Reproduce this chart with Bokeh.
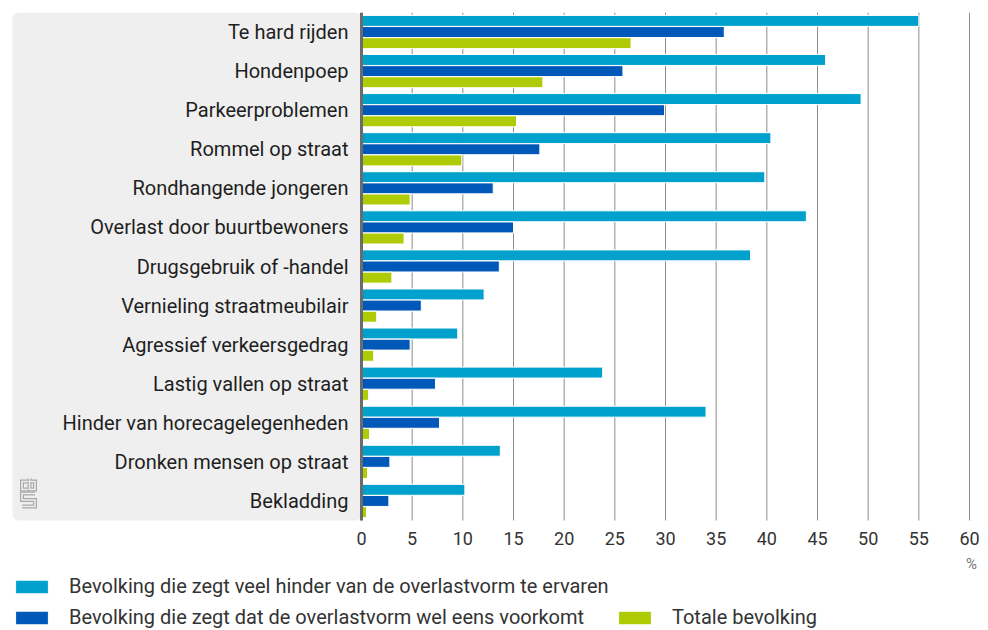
from bokeh.plotting import figure
from bokeh.models import (ColumnDataSource, Range1d, BoxAnnotation, Legend, LegendItem)
from bokeh.transform import dodge
from bokeh.core.properties import value
from bokeh.embed import file_html
from bokeh.resources import INLINE

categories = [
    "Te hard rijden", "Hondenpoep", "Parkeerproblemen", "Rommel op straat",
    "Rondhangende jongeren", "Overlast door buurtbewoners", "Drugsgebruik of -handel",
    "Vernieling straatmeubilair", "Agressief verkeersgedrag", "Lastig vallen op straat",
    "Hinder van horecagelegenheden", "Dronken mensen op straat", "Bekladding",
]
veel_hinder = [55.0, 45.8, 49.3, 40.4, 39.8, 43.9, 38.4, 12.1, 9.5, 23.8, 34.0, 13.7, 10.2]
wel_eens = [35.8, 25.8, 29.9, 17.6, 13.0, 15.0, 13.6, 5.9, 4.8, 7.3, 7.7, 2.8, 2.7]
totaal = [26.6, 17.9, 15.3, 9.9, 4.8, 4.2, 3.0, 1.5, 1.2, 0.7, 0.8, 0.6, 0.5]
x_ticks = [0, 5, 10, 15, 20, 25, 30, 35, 40, 45, 50, 55, 60]
series_labels = [
    "Bevolking die zegt veel hinder van de overlastvorm te ervaren",
    "Bevolking die zegt dat de overlastvorm wel eens voorkomt",
    "Totale bevolking",
]
unit_label = "%"

FONT = "Roboto"
C_LIGHT = "#00a1cd"
C_DARK = "#0058b8"
C_GREEN = "#afcb05"
PANEL = "#efefef"

# ---- layout (pixels) ----
FRAME_LEFT = 6
FRAME_TOP = 12
FRAME_W = 975
FRAME_H = 618
ZERO_PX = 355            # x = 0 inside the frame
BAR_AREA_H = 508         # height used by the categories
X_MAX = x_ticks[-1]
n = len(categories)

px_per_x = (969 - FRAME_LEFT - ZERO_PX) / X_MAX
x_start = -ZERO_PX / px_per_x
x_end = (FRAME_W - ZERO_PX) / px_per_x
px_per_cat = BAR_AREA_H / n
y_start = -(FRAME_H - BAR_AREA_H) / px_per_cat
panel_left = x_start + 6 / px_per_x

def page_x(px):
    return x_start + (px - FRAME_LEFT) / px_per_x

def page_y(py):
    return n - (py - FRAME_TOP) / px_per_cat

# category slots: first category on top
ypos = [n - i - 0.5 for i in range(n)]
source = ColumnDataSource(dict(cat=categories, y=ypos, veel=veel_hinder,
                               wel=wel_eens, tot=totaal))

p = figure(
    frame_width=FRAME_W, frame_height=FRAME_H,
    x_range=Range1d(x_start, x_end), y_range=Range1d(y_start, n),
    output_backend="svg", toolbar_location=None, tools="",
    x_axis_location=None, y_axis_location=None,
    min_border_left=FRAME_LEFT, min_border_right=0, min_border_top=FRAME_TOP,
    min_border_bottom=0,
)
p.outline_line_color = None
p.background_fill_color = "white"
p.border_fill_color = "white"
p.xgrid.visible = False
p.ygrid.visible = False

# grey label panel
p.add_layout(BoxAnnotation(left=panel_left, right=0, bottom=0, top=n,
                           fill_color=PANEL, fill_alpha=1.0, line_alpha=0,
                           border_radius=6, level="underlay"))

# small "cbs" pictogram in the bottom-left corner of the panel (pixel paths)
LOGO_X, LOGO_Y = 21, 478
logo_paths = [
    [(6.5, 3), (0.5, 3), (0.5, 11), (6.5, 11)],
    [(8, 0), (8, 11), (13.5, 11), (13.5, 3), (8, 3)],
    [(13.5, 15), (0.5, 15), (0.5, 21.5), (13.5, 21.5), (13.5, 28), (0.5, 28)],
]
lx = [[page_x(LOGO_X + a) for a, b in path] for path in logo_paths]
ly = [[page_y(LOGO_Y + b) for a, b in path] for path in logo_paths]
p.multi_line(lx, ly, line_color="#a8a8a8", line_width=4, line_join="miter")
p.multi_line(lx, ly, line_color=PANEL, line_width=1.6, line_join="miter")

# vertical grid lines
p.segment(x0=x_ticks, y0=0, x1=x_ticks, y1=n, line_color="#8c8c8c", line_width=1)

bw = 0.28
r1 = p.hbar(y=dodge("y", 0.285), right="veel", left=0, height=bw,
            source=source, fill_color=C_LIGHT, line_color="white", line_width=1)
r2 = p.hbar(y=dodge("y", 0.0), right="wel", left=0, height=bw,
            source=source, fill_color=C_DARK, line_color="white", line_width=1)
r3 = p.hbar(y=dodge("y", -0.285), right="tot", left=0, height=bw,
            source=source, fill_color=C_GREEN, line_color="white", line_width=1)

# value axis line at 0
p.segment(x0=[0], y0=[0], x1=[0], y1=[n], line_color="#6b6b6b", line_width=3)

# category labels
p.text(x=0, y="y", text="cat", source=source, x_offset=-13,
       text_align="right", text_baseline="middle",
       text_font=value(FONT), text_font_size="20px", text_color="#1e1e1e")

# tick labels of the value axis
p.text(x=x_ticks, y=0, text=[str(t) for t in x_ticks], y_offset=18,
       text_align="center", text_baseline="middle",
       text_font=value(FONT), text_font_size="18px", text_color="#333333")

# unit label
p.text(x=[X_MAX], y=[0], text=[unit_label], x_offset=2, y_offset=43,
       text_align="center", text_baseline="middle",
       text_font=value(FONT), text_font_size="15px", text_color="#777777")

def make_legend(item_label, renderer, loc):
    return Legend(items=[LegendItem(label=item_label, renderers=[renderer])],
                  location=loc, orientation="horizontal",
                  glyph_width=41, glyph_height=17, label_height=17,
                  label_standoff=17, padding=0, margin=0, spacing=0,
                  border_line_color=None, background_fill_alpha=0,
                  label_text_font=FONT, label_text_font_size="20px",
                  label_text_color="#333333")

p.add_layout(make_legend(series_labels[0], r1, (5, 32)))
p.add_layout(make_legend(series_labels[1], r2, (5, 1)))
p.add_layout(make_legend(series_labels[2], r3, (608, 1)))

open("out.html", "w").write(file_html(p, INLINE))
